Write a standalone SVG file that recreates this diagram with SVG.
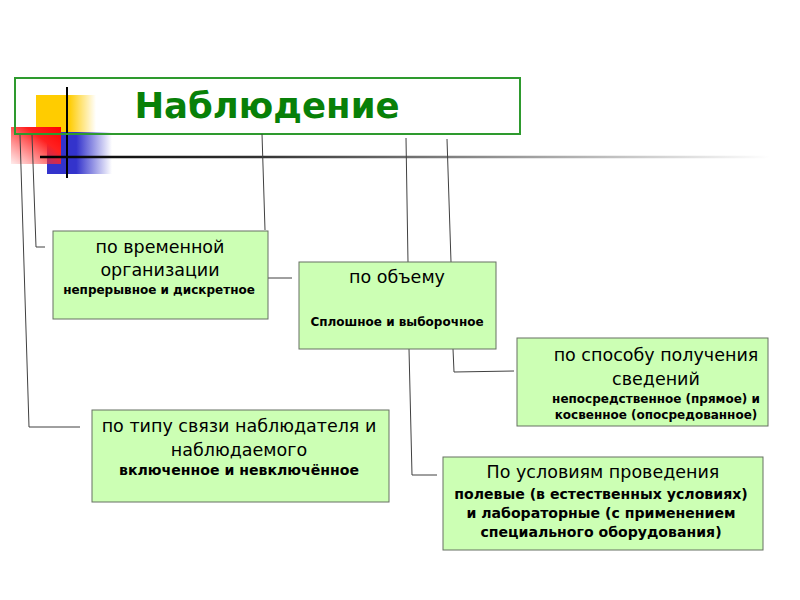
<svg xmlns="http://www.w3.org/2000/svg" width="800" height="600" viewBox="0 0 800 600">
<defs>
<linearGradient id="gY" x1="0" y1="0" x2="1" y2="0"><stop offset="0" stop-color="#ffcc00"/><stop offset="0.55" stop-color="#ffcc00"/><stop offset="1" stop-color="#ffcc00" stop-opacity="0"/></linearGradient>
<linearGradient id="gR" x1="1" y1="0" x2="0" y2="1"><stop offset="0" stop-color="#ff0000"/><stop offset="0.35" stop-color="#ff2020"/><stop offset="1" stop-color="#ff4040" stop-opacity="0.1"/></linearGradient>
<linearGradient id="gB" x1="0" y1="0" x2="1" y2="0"><stop offset="0" stop-color="#3333cc"/><stop offset="0.45" stop-color="#3333cc"/><stop offset="1" stop-color="#3333cc" stop-opacity="0"/></linearGradient>
<linearGradient id="gL" x1="40" y1="0" x2="770" y2="0" gradientUnits="userSpaceOnUse"><stop offset="0" stop-color="#000"/><stop offset="0.3" stop-color="#333"/><stop offset="0.65" stop-color="#999"/><stop offset="1" stop-color="#fff"/></linearGradient>
</defs>
<style>
.box{fill:#ccffb4;stroke:#677063;stroke-width:1}
.con{fill:none;stroke:#404040;stroke-width:1}
.m{font-family:"DejaVu Sans",Verdana,sans-serif;font-size:17.5px;fill:#000;text-anchor:middle}
.s{font-family:"DejaVu Sans",Verdana,sans-serif;font-size:12px;font-weight:bold;fill:#000;text-anchor:middle}
.b{font-family:"DejaVu Sans",Verdana,sans-serif;font-size:14.1px;font-weight:bold;fill:#000;text-anchor:middle}
</style>
<rect width="800" height="600" fill="#fff"/>
<g id="decor">
<rect x="36" y="95" width="60" height="39" fill="url(#gY)"/>
<rect x="47" y="132" width="65" height="42" fill="url(#gB)"/>
<rect x="11" y="127" width="50" height="37" fill="url(#gR)"/>
<line x1="67" y1="87" x2="67" y2="178" stroke="#000" stroke-width="2"/>
<line x1="40" y1="157" x2="770" y2="157" stroke="url(#gL)" stroke-width="2.5"/>
</g>
<g id="title">
<rect x="15" y="78" width="505" height="56" fill="none" stroke="#2e9a2e" stroke-width="2"/>
<text x="267" y="118" font-family="'DejaVu Sans',Verdana,sans-serif" font-size="35.5" font-weight="bold" fill="#088008" text-anchor="middle">Наблюдение</text>
</g>
<g id="connectors">
<polyline class="con" points="20,135 29,427 80,427"/>
<polyline class="con" points="32,135 36,247 45,247"/>
<line class="con" x1="262" y1="134" x2="265" y2="230"/>
<line class="con" x1="268" y1="278" x2="292" y2="278"/>
<line class="con" x1="406" y1="138" x2="408" y2="262"/>
<line class="con" x1="447" y1="139" x2="451" y2="262"/>
<polyline class="con" points="453,349 454,372 514,371"/>
<polyline class="con" points="409,349 412,475 437,475"/>
</g>
<g id="node-time">
<rect class="box" x="53" y="231" width="215" height="88"/>
<text class="m" x="160" y="253">по временной</text>
<text class="m" x="160" y="276">организации</text>
<text class="s" x="159" y="294">непрерывное и дискретное</text>
</g>
<g id="node-volume">
<rect class="box" x="299" y="262" width="197" height="87"/>
<text class="m" x="397" y="283">по объему</text>
<text class="s" x="397" y="326">Сплошное и выборочное</text>
</g>
<g id="node-method">
<rect class="box" x="517" y="338" width="251" height="88"/>
<text class="m" x="656" y="361">по способу получения</text>
<text class="m" x="656" y="385">сведений</text>
<text class="s" x="656" y="403">непосредственное (прямое) и</text>
<text class="s" x="656" y="419">косвенное (опосредованное)</text>
</g>
<g id="node-link">
<rect class="box" x="92" y="410" width="297" height="92"/>
<text class="m" x="239" y="432">по типу связи наблюдателя и</text>
<text class="m" x="239" y="456">наблюдаемого</text>
<text class="b" x="239" y="475">включенное и невключённое</text>
</g>
<g id="node-conditions">
<rect class="box" x="443" y="457" width="320" height="93"/>
<text class="m" x="603" y="478">По условиям проведения</text>
<text class="b" x="601" y="499">полевые (в естественных условиях)</text>
<text class="b" x="601" y="518">и лабораторные (с применением</text>
<text class="b" x="601" y="537">специального оборудования)</text>
</g>
</svg>
